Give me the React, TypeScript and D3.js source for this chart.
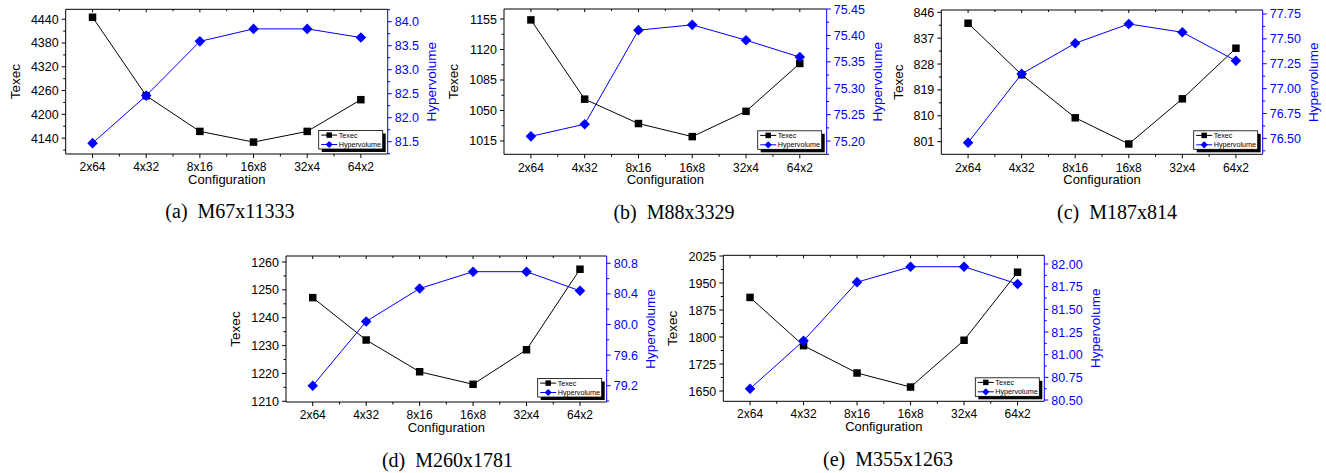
import React from 'react';
import * as d3 from 'd3';

// categories shared by every panel
const configurations = ['2x64', '4x32', '8x16', '16x8', '32x4', '64x2'];

// (a) M67x11333
const texecA = [4445, 4247, 4157, 4130, 4157, 4237];
const hyperA = [81.47, 82.46, 83.59, 83.85, 83.85, 83.67];
const texecTicksA = [4140, 4200, 4260, 4320, 4380, 4440];
const hyperTicksA = [81.5, 82.0, 82.5, 83.0, 83.5, 84.0];

// (b) M88x3329
const texecB = [1154, 1063, 1035, 1020, 1049, 1104];
const hyperB = [75.209, 75.232, 75.41, 75.42, 75.391, 75.359];
const texecTicksB = [1015, 1050, 1085, 1120, 1155];
const hyperTicksB = [75.2, 75.25, 75.3, 75.35, 75.4, 75.45];

// (c) M187x814
const texecC = [842.2, 824.3, 809.3, 800.2, 815.9, 833.5];
const hyperC = [76.457, 77.148, 77.456, 77.65, 77.566, 77.28];
const texecTicksC = [801, 810, 819, 828, 837, 846];
const hyperTicksC = [76.5, 76.75, 77.0, 77.25, 77.5, 77.75];

// (d) M260x1781
const texecD = [1247.2, 1232, 1220.6, 1216.1, 1228.5, 1257.4];
const hyperD = [79.2, 80.04, 80.47, 80.69, 80.69, 80.44];
const texecTicksD = [1210, 1220, 1230, 1240, 1250, 1260];
const hyperTicksD = [79.2, 79.6, 80.0, 80.4, 80.8];

// (e) M355x1263
const texecE = [1910, 1776, 1700, 1661, 1791, 1980];
const hyperE = [80.625, 81.154, 81.8, 81.97, 81.97, 81.78];
const texecTicksE = [1650, 1725, 1800, 1875, 1950, 2025];
const hyperTicksE = [80.5, 80.75, 81.0, 81.25, 81.5, 81.75, 82.0];

const BLUE = '#0000ff';
const SANS = '"Liberation Sans", Arial, sans-serif';
const SERIF = '"Liberation Serif", "Times New Roman", serif';

const panels = [
  { caption: '(a)  M67x11333', texec: texecA, hyper: hyperA, texecTicks: texecTicksA, hyperTicks: hyperTicksA,
    texecDomain: [4100, 4465], hyperDomain: [81.244, 84.258], digits: 1,
    left: 65.7, top: 9.3, right: 387.7, bottom: 154, captionX: 230 },
  { caption: '(b)  M88x3329', texec: texecB, hyper: hyperB, texecTicks: texecTicksB, hyperTicks: hyperTicksB,
    texecDomain: [999.7, 1166.5], hyperDomain: [75.175, 75.45], digits: 2,
    left: 504, top: 9, right: 826.7, bottom: 154.3, captionX: 674 },
  { caption: '(c)  M187x814', texec: texecC, hyper: hyperC, texecTicks: texecTicksC, hyperTicks: hyperTicksC,
    texecDomain: [796.6, 846.8], hyperDomain: [76.34, 77.79], digits: 2,
    left: 941.3, top: 10, right: 1262.7, bottom: 154.3, captionX: 1117 },
  { caption: '(d)  M260x1781', texec: texecD, hyper: hyperD, texecTicks: texecTicksD, hyperTicks: hyperTicksD,
    texecDomain: [1209.75, 1262.15], hyperDomain: [78.987, 80.895], digits: 1,
    left: 286, top: 256, right: 606.7, bottom: 402, captionX: 447.5 },
  { caption: '(e)  M355x1263', texec: texecE, hyper: hyperE, texecTicks: texecTicksE, hyperTicks: hyperTicksE,
    texecDomain: [1621.4, 2027], hyperDomain: [80.486, 82.096], digits: 2,
    left: 723.3, top: 255.3, right: 1044.3, bottom: 401.3, captionX: 888 },
];

// one minor tick half way between majors, kept inside the domain
const minorTicks = (ticks, domain) => {
  const step = ticks[1] - ticks[0];
  const vals = [ticks[0] - step / 2, ...ticks.map((t) => t + step / 2)];
  return vals.filter((v) => v >= domain[0] && v <= domain[1]);
};

const squarePath = d3.symbol().type(d3.symbolSquare).size(56)();
const diamondPath = d3.symbol().type(d3.symbolSquare).size(56)();
const legendSquare = d3.symbol().type(d3.symbolSquare).size(30)();
const legendDiamond = d3.symbol().type(d3.symbolSquare).size(26)();

function Panel({ p }) {
  const width = p.right - p.left;
  const height = p.bottom - p.top;

  const x = d3.scalePoint().domain(configurations).range([0, width]).padding(0.5);
  const yL = d3.scaleLinear().domain(p.texecDomain).range([height, 0]);
  const yR = d3.scaleLinear().domain(p.hyperDomain).range([height, 0]);
  const step = x.step();
  const xMinor = d3.range(1, configurations.length).map((i) => i * step);

  const texecLine = d3.line().x((d, i) => x(configurations[i])).y((d) => yL(d));
  const hyperLine = d3.line().x((d, i) => x(configurations[i])).y((d) => yR(d));

  const fmtL = (v) => String(v);
  const fmtR = (v) => v.toFixed(p.digits);
  const leftChars = d3.max(p.texecTicks, (t) => fmtL(t).length);
  const rightChars = d3.max(p.hyperTicks, (t) => fmtR(t).length);
  const leftTitleX = -(19 + 8 * leftChars);
  const rightTitleX = width + 12 + 7.75 * rightChars;

  const lgW = 64;
  const lgH = 18.5;
  const lgX = width - 5 - lgW;
  const lgY = height - 5 - lgH;

  return (
    <g transform={`translate(${p.left},${p.top})`}>
      {/* frame */}
      <line x1={0} x2={width} y1={0} y2={0} stroke="#000" strokeWidth={1} />
      <line x1={0} x2={width} y1={height} y2={height} stroke="#000" strokeWidth={1} />
      <line x1={0} x2={0} y1={0} y2={height} stroke="#000" strokeWidth={1} />
      <line x1={width} x2={width} y1={0} y2={height} stroke={BLUE} strokeWidth={1} />

      {/* bottom and top ticks */}
      {configurations.map((c) => (
        <g key={c}>
          <line x1={x(c)} x2={x(c)} y1={height} y2={height + 4} stroke="#000" />
          <line x1={x(c)} x2={x(c)} y1={0} y2={3} stroke="#000" />
          <text x={x(c)} y={height + 17.2} textAnchor="middle" fontSize={12} fontFamily={SANS}>{c}</text>
        </g>
      ))}
      {xMinor.map((m) => (
        <g key={m}>
          <line x1={m} x2={m} y1={height} y2={height + 2.5} stroke="#000" />
          <line x1={m} x2={m} y1={0} y2={2} stroke="#000" />
        </g>
      ))}

      {/* left axis */}
      {p.texecTicks.map((t) => (
        <g key={t}>
          <line x1={-4} x2={0} y1={yL(t)} y2={yL(t)} stroke="#000" />
          <text x={-7} y={yL(t)} dy="0.36em" textAnchor="end" fontSize={12.5} fontFamily={SANS}>{fmtL(t)}</text>
        </g>
      ))}
      {minorTicks(p.texecTicks, p.texecDomain).map((t) => (
        <line key={t} x1={-2.5} x2={0} y1={yL(t)} y2={yL(t)} stroke="#000" />
      ))}

      {/* right axis */}
      {p.hyperTicks.map((t) => (
        <g key={t}>
          <line x1={width} x2={width + 4} y1={yR(t)} y2={yR(t)} stroke={BLUE} />
          <text x={width + 7} y={yR(t)} dy="0.36em" fontSize={12.5} fontFamily={SANS} fill={BLUE}>{fmtR(t)}</text>
        </g>
      ))}
      {minorTicks(p.hyperTicks, p.hyperDomain).map((t) => (
        <line key={t} x1={width} x2={width + 2.5} y1={yR(t)} y2={yR(t)} stroke={BLUE} />
      ))}

      {/* titles */}
      <text transform={`translate(${leftTitleX},${height / 2}) rotate(-90)`} dy="0.36em" textAnchor="middle"
        fontSize={13.5} fontFamily={SANS}>Texec</text>
      <text transform={`translate(${rightTitleX},${height / 2}) rotate(-90)`} dy="0.36em" textAnchor="middle"
        fontSize={13.5} fontFamily={SANS} fill={BLUE}>Hypervolume</text>
      <text x={width / 2} y={height + 30} textAnchor="middle" fontSize={13} fontFamily={SANS}>Configuration</text>

      {/* series */}
      <path d={texecLine(p.texec)} fill="none" stroke="#000" strokeWidth={1} />
      {p.texec.map((v, i) => (
        <path key={i} d={squarePath} transform={`translate(${x(configurations[i])},${yL(v)})`} fill="#000" />
      ))}
      <path d={hyperLine(p.hyper)} fill="none" stroke={BLUE} strokeWidth={1} />
      {p.hyper.map((v, i) => (
        <path key={i} d={diamondPath} transform={`translate(${x(configurations[i])},${yR(v)}) rotate(45)`} fill={BLUE} />
      ))}

      {/* legend */}
      <rect x={lgX + 3} y={lgY + 3} width={lgW} height={lgH} fill="#000" />
      <rect x={lgX} y={lgY} width={lgW} height={lgH} fill="#fff" stroke="#000" strokeWidth={0.8} />
      <line x1={lgX + 2.5} x2={lgX + 18.5} y1={lgY + 4.6} y2={lgY + 4.6} stroke="#000" />
      <path d={legendSquare} transform={`translate(${lgX + 10.5},${lgY + 4.6})`} fill="#000" />
      <text x={lgX + 20} y={lgY + 4.6} dy="0.36em" fontSize={7.2} fontFamily={SANS}>Texec</text>
      <line x1={lgX + 2.5} x2={lgX + 18.5} y1={lgY + 14} y2={lgY + 14} stroke={BLUE} />
      <path d={legendDiamond} transform={`translate(${lgX + 10.5},${lgY + 14}) rotate(45)`} fill={BLUE} />
      <text x={lgX + 20} y={lgY + 14} dy="0.36em" fontSize={7.2} fontFamily={SANS}>Hypervolume</text>

      {/* caption */}
      <text x={p.captionX - p.left} y={height + 64.5} textAnchor="middle" fontSize={20} fontFamily={SERIF}
        style={{ whiteSpace: 'pre' }}>{p.caption}</text>
    </g>
  );
}

export default function App() {
  return (
    <div style={{ position: 'absolute', left: 0, top: 0 }}>
      <svg width={1326} height={473} style={{ display: 'block', background: '#fff' }}>
        {panels.map((p) => (
          <Panel key={p.caption} p={p} />
        ))}
      </svg>
    </div>
  );
}
